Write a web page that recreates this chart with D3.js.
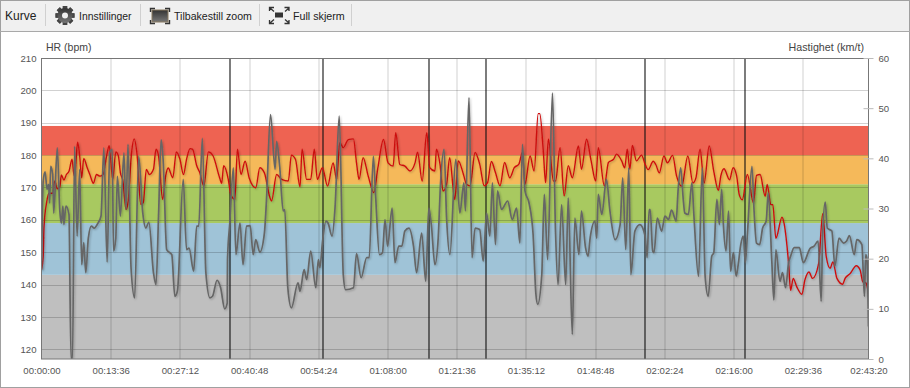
<!DOCTYPE html>
<html>
<head>
<meta charset="utf-8">
<script src="https://cdn.jsdelivr.net/npm/d3@7"></script>
<style>
  html, body { margin: 0; padding: 0; background: #fff; }
  #root { width: 910px; height: 388px; overflow: hidden; }
  text { font-family: "Liberation Sans", Arial, sans-serif; }
</style>
</head>
<body>
<div id="root"></div>
<script>
// time in minutes, heart rate in bpm
var hrMinutes = [0,.33,.5,1,1.5,2.2,2.6,3.1,3.6,3.9,4.4,4.9,5.4,6,6.4,6.6,7.1,7.5,7.9,8.3,9,9.5,10.2,10.8,11.5,12.1,12.8,13.3,14,14.6,15.1,15.5,16,16.6,17,17.7,18.2,18.8,19.5,20,20.6,21.2,22,22.5,23,23.8,24.4,24.9,25.8,26.5,27.2,27.9,28.5,29.2,29.7,30.5,31.1,31.9,32.8,33.7,35,35.4,35.8,
  36.7,37.2,38,38.5,39.2,40,40.8,42.1,42.9,43.8,44.9,45.2,46.2,47.2,48.5,49.1,49.9,50.8,51.2,52.1,52.9,53.6,54.2,55.2,56.2,57.3,58,58.6,59.3,60.3,61.3,61.9,62.4,63.2,64.2,65.3,66.1,67.2,68.1,69.1,69.6,70.4,71.4,72.4,73.4,73.9,74.8,75.7,76.3,77.3,
  77.6,78.3,78.9,79.6,80.2,81.2,81.9,82.9,83.5,84.2,85.2,86.1,87,87.65,88.4,89.2,90.1,91,92,92.9,93.8,94.5,95,96,96.8,97.6,97.9,98.6,99.05,99.6,100.6,101,101.9,102.7,103.5,104.3,105.5,106.1,107.1,108,108.9,109.4,110.6,111.4,112.4,113,114,114.6,115.1,115.6,116.1,116.9,117.9,118.6,
  119.2,120.2,120.7,121.4,122.3,123,124,124.8,125.8,127,128,128.6,129.4,130.2,131.2,132.1,133,133.5,134.1,135.2,135.9,136.6,137.1,137.7,138.7,139.9,140.5,141.2,142.2,142.6,143.3,143.7,144.3,145.5,145.9,146.8,147.2,147.7,148.4,149.4,150,150.8,151.5,152.7,153.5,154.2,154.95,155.5,156.3,157.4,157.9,158.9,160.1,160.85,161.4,162,162.5];
var hrValues = [144.6,148.7,158,165.3,168.2,168.2,172,169.6,170.2,173.9,172.3,174,175,178.7,173.6,174.6,184,179.8,173,179,176,174,171.3,174,173.5,174,179.8,182.9,172.5,181,179.8,174.6,172,163.2,165.3,180.8,185,179.8,164.8,165.3,175.6,174,175.6,181.8,179.8,166.3,173.6,176,173,181,178.7,174,178.7,182,181.8,176.7,174.6,170.5,181,179.8,173,171.3,176.7,
  172.5,167.8,166.3,181.8,174,178.1,173,169.9,176.1,174.5,166.8,165.8,174,172.5,172,180,178.7,170.2,181.8,172.5,172.5,181.8,172.5,176.1,170.4,177.6,172.5,183.8,182.3,184.8,185,177.6,172.5,179.2,173.5,168.4,176.1,184.8,177.6,176.6,186.9,177.1,176.6,175.1,177.6,180.9,172,186.9,176.1,175.1,
  181.8,177.2,168.9,171,179.2,166.3,178.2,174.1,171,170.5,180.8,177.2,170.5,171.5,178,174.6,170.5,177.7,173,176.1,177.2,180.8,171,179.7,175.1,192.8,192.8,181.3,171.5,184.9,172,172,182.3,167.4,176.7,173,182.8,175.6,184.9,178.2,172,182.3,170.5,177.7,178.7,180.3,178.2,176.1,181.8,175.6,183,178.2,180,177.2,
  175.5,178.1,177.1,174.5,179.7,177.6,179.9,173.5,170.4,179.7,171.4,173,181.8,171.4,182.8,175,169.1,173.7,175.8,172.4,176.1,173.5,167.8,166.2,174,165.2,173.7,174,167.3,170.9,164.7,164.7,154.3,160.8,159,146.5,138.2,141.9,139.3,137,141.4,143.9,141.9,146.5,161.9,148.6,145,147,141.9,140.1,141.9,143.4,145.8,144.5,140.8,140.5,137.2];

// time in minutes, speed in km/t
var speedMinutes = [0,.33,.7,1.1,1.4,1.6,1.8,2.2,2.4,3.1,3.6,3.9,4.2,4.4,4.8,5.4,5.8,6.1,6.5,7,7.5,7.9,8.3,8.7,9.2,9.8,10.35,11.1,11.7,12.25,12.9,13.4,13.9,14.15,14.6,14.9,15.5,16.2,16.6,17,17.6,18.3,19.1,19.9,20.5,21.1,22,22.5,23,23.5,23.9,24.6,25.6,26.2,26.7,27.85,28.5,29,29.9,30.5,30.9,31.6,32.3,33.1,33.6,34.5,35.2,36,36.5,
  36.55,37,37.7,38.2,39,39.6,40.3,41,41.6,42.1,42.9,43.8,44.2,45,45.9,46.2,46.8,47.5,47.8,48.4,49.1,50.4,50.8,51.6,52.1,52.9,53.9,54.4,54.7,55.2,55.9,56.3,57.1,57.7,58.5,59.3,59.75,61.3,61.9,62.8,63.9,64.4,65.2,65.65,66.4,67,67.5,68,68.9,69.45,70.2,70.8,71.4,72.2,73.1,73.7,74.7,75.5,76.1,76.6,77.3,
  77.95,78.4,79.1,79.6,80.25,81.4,82.2,83,83.3,84,84.6,85.2,86.1,86.8,87.45,88.1,88.6,89.2,89.6,90.4,91.6,92.5,93.35,94,94.5,95,95.8,96.6,97.15,97.5,98.3,98.8,99.45,100.4,101,101.5,102.2,103,103.5,104.3,104.8,105.6,106.1,106.9,107.4,107.8,108.75,109.1,109.4,110.1,111,111.7,112.7,113.7,114.2,114.8,115.4,115.8,116.6,117.6,118.6,119,119.4,
  119.6,120.1,120.35,121,121.85,122.5,123.2,123.8,124.7,125.1,125.6,126.1,126.4,127.1,127.8,128.2,129.1,129.85,130.4,131,131.7,132.1,132.7,133.2,133.65,134,134.5,135,135.4,135.95,136.5,136.9,137.4,137.9,138.3,138.7,139.6,140,140.5,141.1,141.7,142.4,142.8,143.5,143.9,144.3,145.1,145.6,146.2,146.8,147.2,147.9,148.9,149.7,151,151.8,152.6,153.2,153.5,154,154.4,155.3,155.9,156.7,157.6,158.2,158.75,159.7,160.2,161.2,161.7,161.95,162.2,162.5];
var speedValues = [17.8,35.4,37.3,33.8,34.8,31.1,38.4,36.8,29.1,42.1,29.5,27.1,30.5,26.8,30.5,28.8,.2,.2,42.4,24.5,37.8,18.8,23.2,17.2,24.1,26.5,26.1,27.1,28.5,42.1,19.3,41.1,41.8,21.5,24.1,36.4,28.5,41.1,29.8,42.8,18.1,12.2,40.4,29.1,26.1,27.3,17.2,14.8,28.5,43.7,39.8,21.8,20.8,12.5,13.5,35.8,21.8,22.1,17.5,26.5,26.5,44,17.2,12.2,12.5,15.7,14.2,10,11.2,
  19.8,27.1,38.1,20.8,27.1,18.8,26.5,26.6,20.8,23.8,21.3,25.1,31.5,48.7,37.8,43.4,38.4,29.5,29.8,14.2,10.2,15.2,13.5,17.8,15.8,21.5,14.2,19.8,18.2,23.2,27.5,27.1,24.5,30.5,48.4,16.8,13.8,14.2,21,16.2,20.2,20.2,40.4,32.5,20.8,21.2,27.8,22.5,30.1,19.2,22.5,22.5,25.5,26.1,22.5,17.2,25.1,15.5,30.1,26.8,18.8,
  24.1,34.8,41.8,28.1,20.8,39.8,29.1,35.1,29.5,52.1,20.2,26.1,25.8,19.5,29.1,24.5,35.1,22.8,33.5,29.8,31.5,27.8,30.1,23.1,42.8,33.5,31.1,24.8,12.9,10.9,16.8,32.8,19.8,53,25.5,14.8,30.8,14.8,32.1,4.9,28.1,20.8,29.5,22.2,20.5,24.1,27.5,24.1,32.8,28.8,35.8,29.5,23.8,26.8,36.1,21.8,38.1,16.8,25.5,26.8,24.5,20.2,29.8,
  29.8,21.5,21.2,28.1,25.5,28.5,27.8,29.7,27.5,33.8,38.1,31.8,29.1,28.8,35.1,28.5,16.5,38.1,16.5,12.5,20.5,21.2,31.8,26.8,33.8,26.5,21.5,29.5,17.5,21.2,16.5,18.8,22.8,24.5,19.2,24.8,38.4,29.8,23.1,22.8,26.1,27.5,33.1,19.5,11.8,21.8,15.5,17.2,14.2,19.2,20.5,22.2,22.2,19.2,22,22.5,23.5,11.5,25.1,31.3,26.1,25.5,18.5,24.1,23.1,23.5,24.6,20.8,23.8,22.8,12.5,20.8,19.8,6.5];

var timeTicks = [0,13.6,27.2,40.8,54.4,68,81.6,95.2,108.8,122.4,136,149.6,162.5];
var timeLabels = ['00:00:00','00:13:36','00:27:12','00:40:48','00:54:24','01:08:00','01:21:36','01:35:12','01:48:48','02:02:24','02:16:00','02:29:36','02:43:20'];
var hrTicks = [120,130,140,150,160,170,180,190,200,210];
var speedTicks = [0,10,20,30,40,50,60];
var lapMinutes = [37,55.2,76,87.2,118.5,138.2];

var zoneLimits = [117,143,159,171,180,189];
var zoneColors = ['#bfbfbf','#9fc3d7','#a8c960','#f5b95a','#ee6352'];

var toolbarLabels = ['Kurve','Innstillinger','Tilbakestill zoom','Full skjerm'];

var width = 910, height = 388;
var margin = { top: 58, right: 41.5, bottom: 29, left: 41.5 },
  plotW = width - margin.left - margin.right,
  plotH = height - margin.top - margin.bottom;

var svg = d3.select('#root')
  .append('svg')
    .attr('width', width)
    .attr('height', height)
    .style('display', 'block');

var defs = svg.append('defs');
var shadow = defs.append('filter')
  .attr('id', 'shadow')
  .attr('x', '-5%').attr('y', '-5%').attr('width', '110%').attr('height', '110%');
shadow.append('feDropShadow')
  .attr('dx', 1).attr('dy', 1).attr('stdDeviation', 0.9)
  .attr('flood-color', '#000').attr('flood-opacity', 0.25);
var iconGrad = defs.append('linearGradient')
  .attr('id', 'iconGrad').attr('x1', 0).attr('y1', 0).attr('x2', 0).attr('y2', 1);
iconGrad.append('stop').attr('offset', 0).attr('stop-color', '#333');
iconGrad.append('stop').attr('offset', 1).attr('stop-color', '#777');
defs.append('clipPath').attr('id', 'plotClip')
  .append('rect').attr('width', plotW).attr('height', plotH);

// outer frame and toolbar
svg.append('rect')
  .attr('x', 0.5).attr('y', 0.5)
  .attr('width', width - 1).attr('height', height - 1)
  .attr('fill', '#fff').attr('stroke', '#a0a0a0');
svg.append('rect')
  .attr('x', 1).attr('y', 1)
  .attr('width', width - 2).attr('height', 30)
  .attr('fill', '#f0f0f0');
svg.append('line')
  .attr('x1', 0).attr('x2', width).attr('y1', 31.5).attr('y2', 31.5)
  .attr('stroke', '#a9a9a9');

var toolbar = svg.append('g').attr('class', 'toolbar');
[45.5, 140.5, 259.5, 351.5].forEach(x => {
  toolbar.append('line')
    .attr('x1', x).attr('x2', x).attr('y1', 4).attr('y2', 26)
    .attr('stroke', '#d0d0d0');
});
var toolbarX = [5, 79, 174, 293];
var toolbarSize = [12, 10.4, 10.6, 10.7];
toolbar.selectAll('text')
  .data(toolbarLabels)
  .enter()
  .append('text')
    .attr('x', (d, i) => toolbarX[i])
    .attr('y', 19.5)
    .attr('font-size', (d, i) => toolbarSize[i] + 'px')
    .attr('fill', '#222')
    .text(d => d);

// gear icon
var gear = toolbar.append('g').attr('transform', 'translate(65,15.5)');
d3.range(8).forEach(i => {
  gear.append('rect')
    .attr('x', -2.2).attr('y', -9.5)
    .attr('width', 4.4).attr('height', 19)
    .attr('fill', '#444')
    .attr('transform', 'rotate(' + i * 45 + ')');
});
gear.append('circle').attr('r', 7.5).attr('fill', 'url(#iconGrad)');
gear.append('circle').attr('r', 3).attr('fill', '#f0f0f0');

// zoom reset icon
var resetIcon = toolbar.append('g').attr('transform', 'translate(150,8)');
resetIcon.append('rect')
  .attr('x', 2).attr('y', 2).attr('width', 16).attr('height', 12)
  .attr('fill', 'url(#iconGrad)').attr('stroke', '#8a7a60');
resetIcon.append('path')
  .attr('d', 'M0.5 4V0.5H5M15 0.5H19.5V4M19.5 12V15.5H15M5 15.5H0.5V12')
  .attr('fill', 'none').attr('stroke', '#333').attr('stroke-width', 1.4);

// full screen icon
var fullIcon = toolbar.append('g').attr('transform', 'translate(269,7)');
fullIcon.append('rect')
  .attr('x', 6).attr('y', 5.5).attr('width', 8).attr('height', 5)
  .attr('fill', '#333');
fullIcon.append('path')
  .attr('d', 'M0.5 4V0.5H5M15.5 0.5H20V4M20 13V16.5H15.5M5 16.5H0.5V13M1 1L5 4.5M20 1L16 4.5M20 16L16 12.5M1 16L5 12.5')
  .attr('fill', 'none').attr('stroke', '#333').attr('stroke-width', 1.3);

var g = svg.append('g')
  .attr('transform', 'translate(' + margin.left + ', ' + margin.top + ')');

var xScale = d3.scaleLinear()
  .domain([0, 162.5])
  .range([0, plotW]);

var hrScale = d3.scaleLinear()
  .domain([117, 210])
  .range([plotH, 0]);

var speedScale = d3.scaleLinear()
  .domain([0, 60])
  .range([plotH, 0]);

var crisp = v => Math.round(v) + 0.5;

// zones
g.selectAll('rect.zone')
  .data(zoneColors)
  .enter()
  .append('rect')
    .attr('class', 'zone')
    .attr('x', 0)
    .attr('width', plotW)
    .attr('y', (d, i) => hrScale(zoneLimits[i + 1]))
    .attr('height', (d, i) => hrScale(zoneLimits[i]) - hrScale(zoneLimits[i + 1]))
    .attr('fill', d => d);

// grid
g.selectAll('line.grid-x')
  .data(timeTicks.slice(1, -1))
  .enter()
  .append('line')
    .attr('class', 'grid-x')
    .attr('x1', d => crisp(xScale(d))).attr('x2', d => crisp(xScale(d)))
    .attr('y1', 0).attr('y2', plotH)
    .attr('stroke', '#000').attr('stroke-opacity', 0.18);

g.selectAll('line.grid-y')
  .data(hrTicks.slice(0, -1))
  .enter()
  .append('line')
    .attr('class', 'grid-y')
    .attr('x1', 0).attr('x2', plotW)
    .attr('y1', d => crisp(hrScale(d))).attr('y2', d => crisp(hrScale(d)))
    .attr('stroke', '#000').attr('stroke-opacity', 0.18);

// laps
g.selectAll('line.lap')
  .data(lapMinutes)
  .enter()
  .append('line')
    .attr('class', 'lap')
    .attr('x1', d => crisp(xScale(d))).attr('x2', d => crisp(xScale(d)))
    .attr('y1', 0).attr('y2', plotH)
    .attr('stroke', '#111').attr('stroke-width', 1.1);

var hrLine = d3.line()
  .x((d, i) => xScale(hrMinutes[i]))
  .y(d => hrScale(d))
  .curve(d3.curveMonotoneX);

var speedLine = d3.line()
  .x((d, i) => xScale(speedMinutes[i]))
  .y(d => speedScale(d))
  .curve(d3.curveMonotoneX);

var lines = g.append('g')
  .attr('clip-path', 'url(#plotClip)');

lines.append('path')
  .datum(hrValues)
  .attr('d', hrLine)
  .attr('fill', 'none')
  .attr('stroke', '#cc1111')
  .attr('stroke-width', 1.4)
  .attr('stroke-linejoin', 'round')
  .attr('filter', 'url(#shadow)');

lines.append('path')
  .datum(speedValues)
  .attr('d', speedLine)
  .attr('fill', 'none')
  .attr('stroke', '#666')
  .attr('stroke-width', 1.7)
  .attr('stroke-linejoin', 'round')
  .attr('filter', 'url(#shadow)');

// plot border
g.append('rect')
  .attr('x', 0).attr('y', 0.5)
  .attr('width', plotW).attr('height', plotH - 0.5)
  .attr('fill', 'none')
  .attr('stroke', '#777');

// axes
var xAxisCall = d3.axisBottom(xScale)
  .tickValues(timeTicks)
  .tickFormat((d, i) => timeLabels[i])
  .tickSize(0)
  .tickPadding(8);

var hrAxisCall = d3.axisLeft(hrScale)
  .tickValues(hrTicks)
  .tickSize(0)
  .tickPadding(5);

var speedAxisCall = d3.axisRight(speedScale)
  .tickValues(speedTicks)
  .tickSize(5)
  .tickPadding(5);

var xAxis = g.append('g')
  .attr('transform', 'translate(0, ' + plotH + ')')
  .call(xAxisCall);
var hrAxis = g.append('g').call(hrAxisCall);
var speedAxis = g.append('g')
  .attr('transform', 'translate(' + plotW + ', 0)')
  .call(speedAxisCall);

[xAxis, hrAxis, speedAxis].forEach(axis => {
  axis.selectAll('text')
    .attr('font-size', '9.6px')
    .attr('font-family', '"Liberation Sans", Arial, sans-serif')
    .attr('fill', '#555');
  axis.select('.domain').remove();
});
speedAxis.selectAll('.tick line')
  .attr('x1', -5)
  .attr('stroke', '#bbb');

svg.append('text')
  .attr('x', 46).attr('y', 51)
  .attr('font-size', '10.5px').attr('fill', '#444')
  .text('HR (bpm)');

svg.append('text')
  .attr('x', 864).attr('y', 51)
  .attr('text-anchor', 'end')
  .attr('font-size', '10.7px').attr('fill', '#444')
  .text('Hastighet (km/t)');
</script>
</body>
</html>
